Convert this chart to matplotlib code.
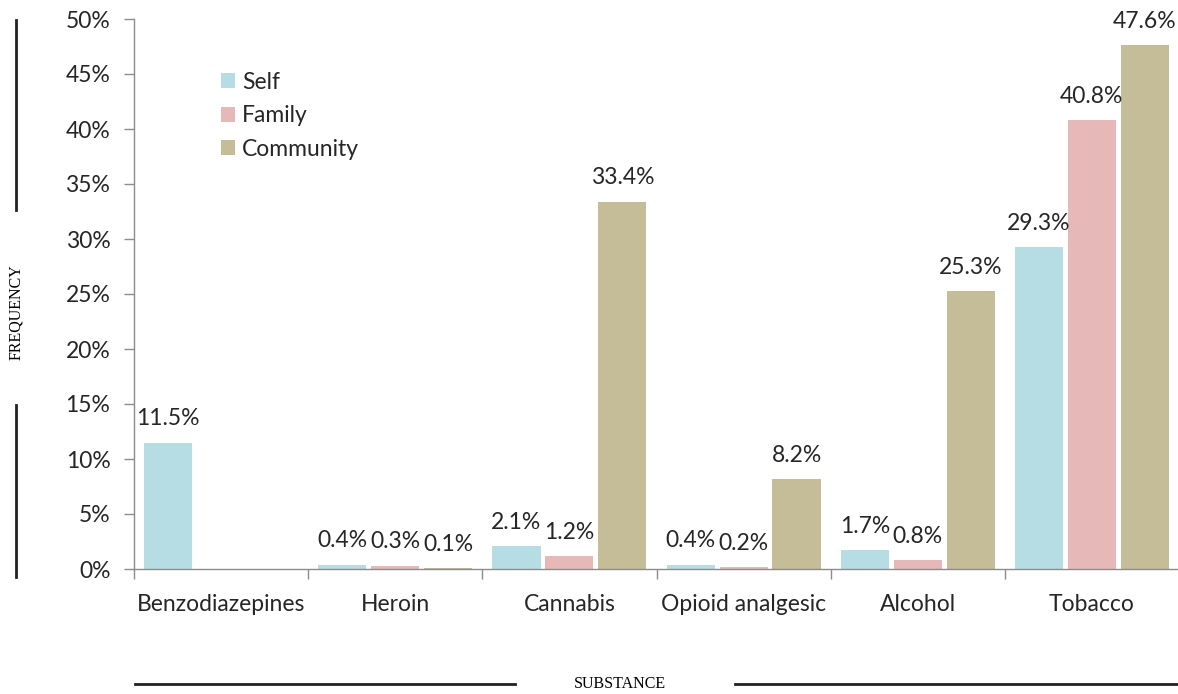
import matplotlib
matplotlib.use("Agg")
import matplotlib.pyplot as plt
import numpy as np
from matplotlib.ticker import FixedLocator, PercentFormatter

categories = ["Benzodiazepines", "Heroin", "Cannabis", "Opioid analgesic", "Alcohol", "Tobacco"]
series_names = ["Self", "Family", "Community"]
self_vals = [11.5, 0.4, 2.1, 0.4, 1.7, 29.3]
family_vals = [0.0, 0.3, 1.2, 0.2, 0.8, 40.8]
community_vals = [0.0, 0.1, 33.4, 8.2, 25.3, 47.6]
colors = ["#b7dde4", "#e6b8b8", "#c4bd97"]

W, H = 1178, 694
fig = plt.figure(figsize=(W / 100, H / 100), dpi=100)
ax = fig.add_axes([134 / W, 1 - 569 / H, (1179 - 134) / W, (569 - 19) / H])

font = "Lato"
fs = 16.5
txtcol = "#262626"
x = np.arange(len(categories))
step = 0.304
bw = 0.276
for i, (vals, name, col) in enumerate(zip([self_vals, family_vals, community_vals], series_names, colors)):
    pos = x + (i - 1) * step
    ax.bar(pos, vals, width=bw, color=col, label=name)
    for p, v in zip(pos, vals):
        if v > 0:
            ax.text(p, v + 1.2, f"{v:.1f}%", ha="center", va="bottom", fontsize=fs,
                    family=font, color=txtcol)

ax.set_xlim(-0.5, len(categories) - 0.5)
ax.set_ylim(0, 50)
ax.yaxis.set_major_locator(FixedLocator(np.arange(0, 51, 5)))
ax.yaxis.set_major_formatter(PercentFormatter(decimals=0))
ax.set_xticks(x)
ax.set_xticklabels(categories)
ax.xaxis.set_minor_locator(FixedLocator(np.arange(-0.5, len(categories), 1.0)))
ax.tick_params(axis="x", which="major", length=0, pad=18, labelsize=fs, labelcolor=txtcol)
ax.tick_params(axis="x", which="minor", length=7, color="#8c8c8c", width=1)
ax.tick_params(axis="y", length=7, color="#8c8c8c", width=1, pad=10, labelsize=fs, labelcolor=txtcol)
for lab in ax.get_xticklabels() + ax.get_yticklabels():
    lab.set_family(font)
for s in ["top", "right"]:
    ax.spines[s].set_visible(False)
for s in ["left", "bottom"]:
    ax.spines[s].set_color("#8c8c8c")
    ax.spines[s].set_linewidth(1)

leg = ax.legend(loc="upper left", bbox_to_anchor=(0.0745, 0.921), frameon=False,
                prop={"family": font, "size": fs}, handlelength=0.62, handleheight=0.62,
                handletextpad=0.3, labelspacing=0.55, borderaxespad=0)
for t in leg.get_texts():
    t.set_color(txtcol)

# axis titles with decorative rules
fig.text(16 / W, 1 - 312 / H, "FREQUENCY", rotation=90, ha="center", va="center",
         family="Liberation Serif", fontsize=11.5, color="black")
fig.add_artist(plt.Line2D([16 / W, 16 / W], [1 - 20 / H, 1 - 210 / H], color="#222222", lw=2))
fig.add_artist(plt.Line2D([16 / W, 16 / W], [1 - 405 / H, 1 - 577 / H], color="#222222", lw=2))
fig.text(620 / W, 1 - 684 / H, "SUBSTANCE", ha="center", va="center",
         family="Liberation Serif", fontsize=11.5, color="black")
fig.add_artist(plt.Line2D([135 / W, 515 / W], [1 - 684 / H, 1 - 684 / H], color="#222222", lw=2))
fig.add_artist(plt.Line2D([735 / W, 1178 / W], [1 - 684 / H, 1 - 684 / H], color="#222222", lw=2))

fig.savefig("out.png", dpi=100, facecolor="white")
